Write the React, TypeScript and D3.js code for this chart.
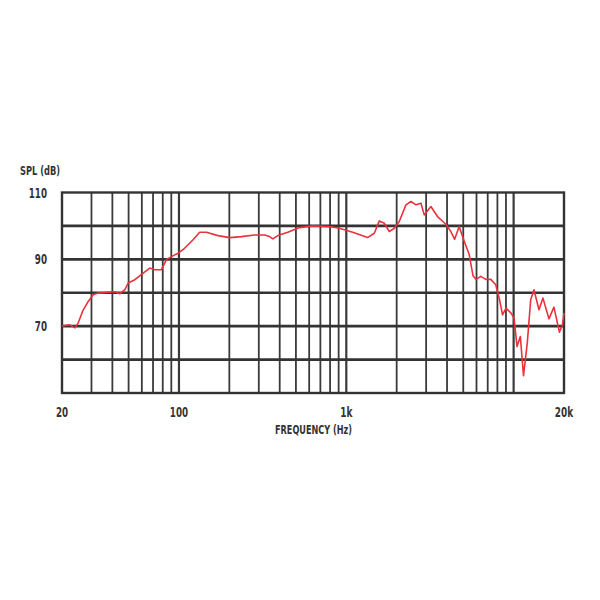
import React from "react";
import * as d3 from "d3";

const freqs = [20, 20.8, 22.3, 23.9, 25.0, 26.8, 28.7, 30.7, 32.9, 41.4, 44.3, 47.5, 49.7, 54.5, 61.1, 66.9, 71.7, 78.6, 84.2, 90.2, 98.7, 108, 121, 133, 146, 171, 201, 236, 283, 325, 348, 364, 390, 447, 525, 630, 793, 909, 1092, 1341, 1470, 1575, 1688, 1807, 1934, 2072, 2272, 2434, 2608, 2793, 2922, 3204, 3508, 3936, 4217, 4443, 4724, 5061, 5420, 5726, 5966, 6366, 6819, 7302, 7820, 8240, 8586, 9010, 9650, 10056, 10480, 10966, 11456, 12068, 12646, 13230, 14172, 14972, 16256, 17416, 18778, 19600, 20000];
const spl = [70.0, 70.2, 70.4, 69.5, 71.0, 74.9, 77.4, 79.4, 79.9, 80.3, 79.7, 80.9, 82.9, 83.9, 85.9, 87.4, 86.9, 86.9, 89.9, 90.8, 91.8, 93.3, 95.8, 98.1, 98.1, 97.1, 96.5, 96.8, 97.3, 97.3, 96.8, 96.1, 97.1, 98.1, 99.5, 100.0, 99.8, 99.3, 98.1, 96.5, 97.8, 101.5, 100.8, 98.3, 99.3, 101.3, 106.3, 107.3, 106.3, 106.8, 103.3, 105.8, 102.8, 100.5, 98.3, 96.0, 99.8, 95.5, 91.5, 85.0, 84.0, 84.9, 84.0, 84.0, 82.4, 77.9, 73.4, 75.4, 73.9, 72.4, 63.9, 66.9, 55.2, 65.0, 77.9, 80.9, 74.9, 78.4, 72.2, 75.7, 68.2, 70.5, 74.0];

const gridFreqs = [30, 40, 50, 60, 70, 80, 90, 100, 200, 300, 400, 500, 600, 700, 800, 900, 1000, 2000, 3000, 4000, 5000, 6000, 7000, 8000, 9000, 10000];
const gridDb = [60, 70, 80, 90, 100];
const xTickValues = [20, 100, 1000, 20000];
const xTickLabels = ["20", "100", "1k", "20k"];
const yTickValues = [110, 90, 70];
const yTickLabels = ["110", "90", "70"];

const FONT = "'DejaVu Sans', sans-serif";

// narrow the glyphs to mimic a condensed typeface
const narrow = (s: string) => Math.max(1, s.length) * 6.1;

export default function App() {
  const x = d3.scaleLog().domain([20, 20000]).range([62, 564]);
  const y = d3.scaleLinear().domain([50, 110]).range([393, 192.5]);
  const line = d3
    .line<number>()
    .x((_, i) => x(freqs[i]))
    .y((d) => y(d))
    .curve(d3.curveLinear);

  const [x0, x1] = x.range();
  const [y0, y1] = y.range();

  return (
    <svg
      width={600}
      height={600}
      style={{ position: "absolute", left: 0, top: 0, background: "#fff" }}
    >
      <rect x={0} y={0} width={600} height={600} fill="#fff" />
      {gridFreqs.map((f) => (
        <line
          key={"v" + f}
          x1={x(f)}
          x2={x(f)}
          y1={y1}
          y2={y0}
          stroke="#3a3a3a"
          strokeWidth={f === 100 || f === 1000 || f === 10000 ? 2.2 : 1.8}
        />
      ))}
      {gridDb.map((d) => (
        <line
          key={"h" + d}
          x1={x0}
          x2={x1}
          y1={y(d)}
          y2={y(d)}
          stroke="#333"
          strokeWidth={2.6}
        />
      ))}
      <rect
        x={x0}
        y={y1}
        width={x1 - x0}
        height={y0 - y1}
        fill="none"
        stroke="#333"
        strokeWidth={2.4}
      />
      <path
        d={line(spl) || ""}
        fill="none"
        stroke="#e8323c"
        strokeWidth={1.6}
        strokeLinejoin="round"
      />
      <g fontFamily={FONT} fill="#333" fontSize={14} fontWeight="bold">
        <text x={20} y={175} fontSize={12} textLength={40} lengthAdjust="spacingAndGlyphs">
          SPL (dB)
        </text>
        {yTickValues.map((v, i) => (
          <text
            key={"yt" + v}
            x={47 - narrow(yTickLabels[i])}
            y={y(v) + 5}
            textLength={narrow(yTickLabels[i])}
            lengthAdjust="spacingAndGlyphs"
          >
            {yTickLabels[i]}
          </text>
        ))}
        {xTickValues.map((v, i) => (
          <text
            key={"xt" + v}
            x={x(v) - narrow(xTickLabels[i]) / 2}
            y={417}
            textLength={narrow(xTickLabels[i])}
            lengthAdjust="spacingAndGlyphs"
          >
            {xTickLabels[i]}
          </text>
        ))}
        <text x={275} y={434} fontSize={13} textLength={77} lengthAdjust="spacingAndGlyphs">
          FREQUENCY (Hz)
        </text>
      </g>
    </svg>
  );
}
